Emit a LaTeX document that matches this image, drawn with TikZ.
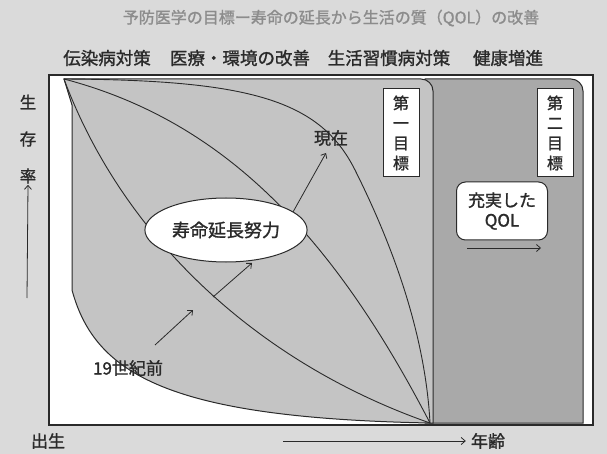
\documentclass[tikz,border=0pt]{standalone}
\usepackage{fontspec}
\setmainfont{Noto Sans CJK JP}[BoldFont=Noto Sans CJK JP, BoldFeatures={FakeBold=1.3}]
\usetikzlibrary{arrows.meta,shapes.geometric}
\definecolor{bg}{HTML}{DADADA}
\definecolor{regA}{HTML}{C4C4C4}
\definecolor{regB}{HTML}{A9A9A9}
\definecolor{ink}{HTML}{2A2A2A}
\definecolor{titlegray}{HTML}{8C8C8C}
\tikzset{
  fs/.style={font=\fontsize{#1}{#1}\selectfont\bfseries},
  curve/.style={draw=ink, line width=0.9pt},
  thinarrow/.style={draw=ink, line width=0.8pt, -{Straight Barb[length=4pt,width=7pt]}},
  goalbox/.style={draw=ink, fill=white, line width=1pt, minimum width=36pt, minimum height=88pt,
                  inner sep=0pt, align=center, text=ink, font=\fontsize{16}{20}\selectfont\bfseries},
  lbl/.style={text=ink, inner sep=1pt}
}
\begin{document}
\begin{tikzpicture}[x=1pt,y=-1pt]
\fill[bg] (0,0) rectangle (607,454);
\useasboundingbox (0,0) rectangle (607,454);

% titles
\node[fs=16, text=titlegray] (title) at (331,18) {予防医学の目標ー寿命の延長から生活の質（QOL）の改善};
\node[fs=17.5, lbl] (m1) at (107,58) {伝染病対策};
\node[fs=17.5, lbl] (m2) at (240,58) {医療・環境の改善};
\node[fs=17.5, lbl] (m3) at (389,58) {生活習慣病対策};
\node[fs=17.5, lbl] (m4) at (508,58) {健康増進};

% frame
\draw[ink, line width=1.2pt, fill=white] (49,75) rectangle (593,425);

% second region
\draw[ink, line width=1pt, fill=regB] (425,423) -- (425,79) -- (571,79)
   .. controls (577.6,79) and (583,84.4) .. (583,91) -- (583,423) -- cycle;

% first region
\coordinate (T) at (64,79);
\coordinate (B) at (430,423);
\draw[ink, line width=1pt, fill=regA] (T) -- (421,79)
   .. controls (427.6,79) and (433,84.4) .. (433,91) -- (433,423) -- (B)
   .. controls (170,418) and (95,375) .. (72,290) -- (72,105) -- cycle;

% survival curves
\draw[curve] (T) .. controls (120,230) and (250,360) .. (B);
\draw[curve] (T) .. controls (220,120) and (330,230) .. (B);
\draw[curve] (T) .. controls (250,80) and (320,100) .. (355,170)
   .. controls (390,240) and (425,330) .. (B);

% goal boxes
\node[goalbox] (g1) at (401,133) {第\\一\\目\\標};
\node[goalbox] (g2) at (555,133) {第\\二\\目\\標};

% QOL box
\node[draw=ink, fill=white, line width=1pt, rounded corners=9pt, minimum width=91pt,
      minimum height=58pt, align=center, text=ink, font=\fontsize{17}{20}\selectfont\bfseries]
      (qol) at (502,211) {充実した\\QOL};
\coordinate (qa) at (467,248);
\coordinate (qb) at (541,248);
\draw[thinarrow] (qa) -- (qb);

% ellipse
\node[draw=ink, fill=white, line width=1pt, ellipse, minimum width=148pt, minimum height=64pt,
      fs=18, text=ink] (eff) at (226,230) {寿命延長努力};

% labels
\node[fs=17, lbl] (now) at (331,138) {現在};
\node[fs=17, lbl] (old) at (128,368) {19世紀前};

% arrows
\coordinate (a1s) at (155,345);
\coordinate (a1e) at (193,310);
\coordinate (a2s) at (213,297);
\coordinate (a2e) at (252,263);
\coordinate (a3s) at (293,212);
\coordinate (a3e) at (326,153);
\draw[thinarrow] (a1s) -- (a1e);
\draw[thinarrow] (a2s) -- (a2e);
\draw[thinarrow] (a3s) -- (a3e);

% axes
\node[fs=16.5, lbl] (y1) at (28,102) {生};
\node[fs=16.5, lbl] (y2) at (28,139) {存};
\node[fs=16.5, lbl] (y3) at (28,176) {率};
\coordinate (ys) at (27,298);
\draw[thinarrow] (ys) -- (y3.south);

\node[fs=17, lbl] (birth) at (48,441) {出生};
\node[fs=17, lbl] (age) at (488,441) {年齢};
\coordinate (xs) at (283,441);
\draw[thinarrow, shorten >=4pt] (xs) -- (age.west);
\end{tikzpicture}
\end{document}
